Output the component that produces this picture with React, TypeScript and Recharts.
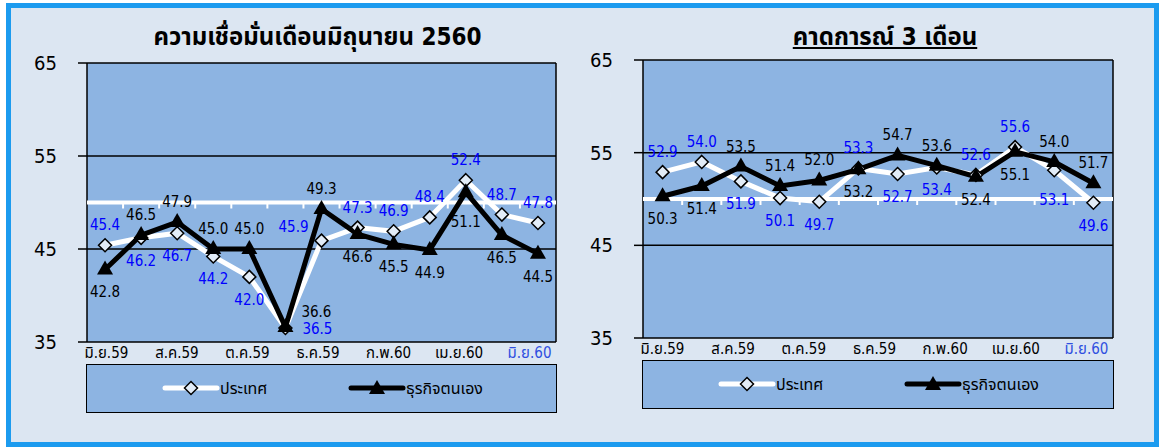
import React from 'react';
import { LineChart, Line, XAxis, YAxis, CartesianGrid, ReferenceLine } from 'recharts';

const FONT = "'DejaVu Sans Condensed', Tahoma, 'Noto Sans Thai', 'Noto Sans', sans-serif";

// months of the left panel (13 points), forecast panel has 12
const MONTHS = ['มิ.ย.59', 'ก.ค.59', 'ส.ค.59', 'ก.ย.59', 'ต.ค.59', 'พ.ย.59', 'ธ.ค.59', 'ม.ค.60', 'ก.พ.60', 'มี.ค.60', 'เม.ย.60', 'พ.ค.60', 'มิ.ย.60'];
const FORECAST_MONTHS = ['ก.ค.59', 'ส.ค.59', 'ก.ย.59', 'ต.ค.59', 'พ.ย.59', 'ธ.ค.59', 'ม.ค.60', 'ก.พ.60', 'มี.ค.60', 'เม.ย.60', 'พ.ค.60', 'มิ.ย.60'];
const TICK_LABELS = ['มิ.ย.59', 'ส.ค.59', 'ต.ค.59', 'ธ.ค.59', 'ก.พ.60', 'เม.ย.60', 'มิ.ย.60'];
const Y_TICKS = [35, 45, 55, 65];

const SERIES_COUNTRY = 'ประเทศ';
const SERIES_BUSINESS = 'ธุรกิจตนเอง';

const NOW_COUNTRY = [45.4, 46.2, 46.7, 44.2, 42.0, 36.5, 45.9, 47.3, 46.9, 48.4, 52.4, 48.7, 47.8];
const NOW_BUSINESS = [42.8, 46.5, 47.9, 45.0, 45.0, 36.6, 49.3, 46.6, 45.5, 44.9, 51.1, 46.5, 44.5];
const AHEAD_COUNTRY = [52.9, 54.0, 51.9, 50.1, 49.7, 53.3, 52.7, 53.4, 52.6, 55.6, 53.1, 49.6];
const AHEAD_BUSINESS = [50.3, 51.4, 53.5, 51.4, 52.0, 53.2, 54.7, 53.6, 52.4, 55.1, 54.0, 51.7];

// where each value label sits relative to its point
const NOW_COUNTRY_POS = ['T', 'B', 'B', 'B', 'B', 'R', 'TL', 'T', 'T', 'T', 'T', 'T', 'T'];
const NOW_BUSINESS_POS = ['B', 'T', 'T', 'T', 'T', 'TR', 'T', 'B', 'B', 'B', 'BB', 'B', 'B'];
const AHEAD_COUNTRY_POS = ['T', 'T', 'B', 'B', 'B', 'T', 'B', 'B', 'T', 'T', 'BB', 'B'];
const AHEAD_BUSINESS_POS = ['B', 'B', 'T', 'T', 'T', 'B', 'T', 'T', 'B', 'B', 'T', 'T'];

const OFFSETS: Record<string, [number, number]> = {
  T: [0, -20],
  B: [0, 23],
  BB: [0, 30],
  R: [32, 1],
  TR: [31, -15],
  TL: [-28, -14],
};

const PLOT_FILL = '#8DB4E2';
const BG = '#DCE6F2';
const BLUE_TEXT = '#0000FF';

const Diamond = (p: any) => {
  const { cx, cy } = p;
  if (cx == null || cy == null) return <g key={p.key} />;
  const s = 6.5;
  return (
    <polygon
      key={p.key}
      points={`${cx},${cy - s} ${cx + s},${cy} ${cx},${cy + s} ${cx - s},${cy}`}
      fill="#E2ECF7"
      stroke="#000"
      strokeWidth={1.5}
    />
  );
};

const Triangle = (p: any) => {
  const { cx, cy } = p;
  if (cx == null || cy == null) return <g key={p.key} />;
  return <polygon key={p.key} points={`${cx},${cy - 9} ${cx + 8},${cy + 5} ${cx - 8},${cy + 5}`} fill="#000" />;
};

const makeLabel = (pos: string[], color: string) => (p: any) => {
  const x = p.x ?? p.viewBox?.x;
  const y = p.y ?? p.viewBox?.y;
  if (x == null || y == null) return null;
  const [dx, dy] = OFFSETS[pos[p.index]] || OFFSETS.T;
  return (
    <text
      key={`l-${p.index}`}
      x={x + dx}
      y={y + dy}
      textAnchor="middle"
      dominantBaseline="central"
      fill={color}
      fontSize={15}
      fontFamily={FONT}
    >
      {Number(p.value).toFixed(1)}
    </text>
  );
};

type PanelProps = {
  title: string;
  underline?: boolean;
  months: string[];
  country: number[];
  business: number[];
  countryPos: string[];
  businessPos: string[];
  left: number;
  width: number;
  plotLeft: number;
  plotRight: number;
  plotTop: number;
  plotBottom: number;
  legendTop: number;
  titleShift: number;
};

const Panel = (props: PanelProps) => {
  const { months, country, business, left, width, plotLeft, plotRight, plotTop, plotBottom } = props;
  const data = months.map((m, i) => ({ month: m, slot: i, country: country[i], business: business[i] }));
  const n = months.length;
  const plotW = plotRight - plotLeft;
  const pad = plotW / (2 * n);

  const midLine = (p: any) => {
    const { x1, x2, y1 } = p;
    const step = (x2 - x1) / n;
    const marks = [];
    for (let k = 1; k < n; k++) {
      const x = x1 + k * step;
      marks.push(<line key={k} x1={x} x2={x} y1={y1} y2={y1 + 6} stroke="#fff" strokeWidth={2} />);
    }
    return (
      <g>
        <line x1={x1} x2={x2} y1={y1} y2={y1} stroke="#fff" strokeWidth={4} />
        {marks}
      </g>
    );
  };

  const lastTick = TICK_LABELS.length - 1;
  const renderTick = (p: any) => {
    const idx = Math.round(p.payload.value / 2);
    return (
      <text
        x={p.x}
        y={p.y + 11}
        textAnchor="middle"
        dominantBaseline="central"
        fontSize={15}
        fontFamily={FONT}
        fill={idx === lastTick ? '#2F4FE0' : '#000'}
      >
        {TICK_LABELS[idx]}
      </text>
    );
  };

  return (
    <div style={{ position: 'absolute', left, top: 0, width, height: 447 }}>
      <div
        style={{
          position: 'absolute',
          left: plotLeft + props.titleShift - 40,
          width: plotW + 80,
          top: 22,
          textAlign: 'center',
          fontFamily: FONT,
          fontWeight: 'bold',
          fontSize: 24,
          lineHeight: '30px',
          textDecoration: props.underline ? 'underline' : 'none',
        }}
      >
        {props.title}
      </div>
      <LineChart
        width={width}
        height={447}
        data={data}
        margin={{ top: plotTop, right: width - plotRight, bottom: 447 - plotBottom - 25, left: plotLeft - 60 }}
      >
        <CartesianGrid
          fill={PLOT_FILL}
          fillOpacity={1}
          stroke="#000"
          strokeWidth={1.5}
          strokeOpacity={1}
          verticalPoints={[plotLeft, plotRight]}
        />
        <XAxis
          xAxisId="lbl"
          dataKey="slot"
          type="number"
          domain={[-0.55, 12.75]}
          allowDataOverflow
          ticks={TICK_LABELS.map((_, i) => i * 2)}
          interval={0}
          axisLine={false}
          tickLine={false}
          tickSize={0}
          tickMargin={0}
          height={25}
          tick={renderTick}
        />
        <XAxis dataKey="month" hide height={0} padding={{ left: pad, right: pad }} />
        <YAxis
          domain={[35, 65]}
          ticks={Y_TICKS}
          interval={0}
          width={60}
          axisLine={false}
          tickLine={{ stroke: '#000', strokeWidth: 1.5 }}
          tickSize={9}
          tickMargin={21}
          tick={{ fill: '#000', fontSize: 20, fontFamily: FONT }}
        />
        <ReferenceLine y={50} stroke="#fff" strokeWidth={4} shape={midLine} />
        <Line
          dataKey="country"
          name={SERIES_COUNTRY}
          stroke="#fff"
          strokeWidth={5}
          dot={Diamond}
          activeDot={false}
          isAnimationActive={false}
          label={makeLabel(props.countryPos, BLUE_TEXT)}
        />
        <Line
          dataKey="business"
          name={SERIES_BUSINESS}
          stroke="#000"
          strokeWidth={5}
          dot={Triangle}
          activeDot={false}
          isAnimationActive={false}
          label={makeLabel(props.businessPos, '#000')}
        />
      </LineChart>
      <div
        style={{
          position: 'absolute',
          left: plotLeft - 1,
          top: props.legendTop,
          width: plotW + 2,
          height: 49,
          boxSizing: 'border-box',
          border: '1.5px solid #000',
          background: PLOT_FILL,
        }}
      >
        <svg width={plotW} height={46} style={{ position: 'absolute', left: 0, top: 0 }}>
          <line x1={78} x2={130} y1={23} y2={23} stroke="#fff" strokeWidth={5} strokeLinecap="round" />
          <Diamond cx={104} cy={23} />
          <text x={133} y={23} dominantBaseline="central" fontSize={16} fontFamily={FONT}>
            {SERIES_COUNTRY}
          </text>
          <line x1={264} x2={316} y1={23} y2={23} stroke="#000" strokeWidth={5} strokeLinecap="round" />
          <Triangle cx={290} cy={24} />
          <text x={319} y={23} dominantBaseline="central" fontSize={16} fontFamily={FONT}>
            {SERIES_BUSINESS}
          </text>
        </svg>
      </div>
    </div>
  );
};

export default function App() {
  return (
    <div style={{ position: 'absolute', left: 0, top: 0, width: 1159, height: 447, background: '#fff', overflow: 'hidden' }}>
      <div
        style={{
          position: 'absolute',
          left: 6,
          top: 3,
          width: 1153,
          height: 444,
          boxSizing: 'border-box',
          border: '5px solid #1C9BEF',
          background: BG,
        }}
      />
      <Panel
        title="ความเชื่อมั่นเดือนมิถุนายน 2560"
        months={MONTHS}
        country={NOW_COUNTRY}
        business={NOW_BUSINESS}
        countryPos={NOW_COUNTRY_POS}
        businessPos={NOW_BUSINESS_POS}
        left={0}
        width={580}
        plotLeft={87}
        plotRight={556}
        plotTop={63}
        plotBottom={342}
        legendTop={364}
        titleShift={-4}
      />
      <Panel
        title="คาดการณ์ 3 เดือน"
        underline
        months={FORECAST_MONTHS}
        country={AHEAD_COUNTRY}
        business={AHEAD_BUSINESS}
        countryPos={AHEAD_COUNTRY_POS}
        businessPos={AHEAD_BUSINESS_POS}
        left={580}
        width={579}
        plotLeft={63}
        plotRight={533}
        plotTop={60}
        plotBottom={338}
        legendTop={360}
        titleShift={7}
      />
    </div>
  );
}
